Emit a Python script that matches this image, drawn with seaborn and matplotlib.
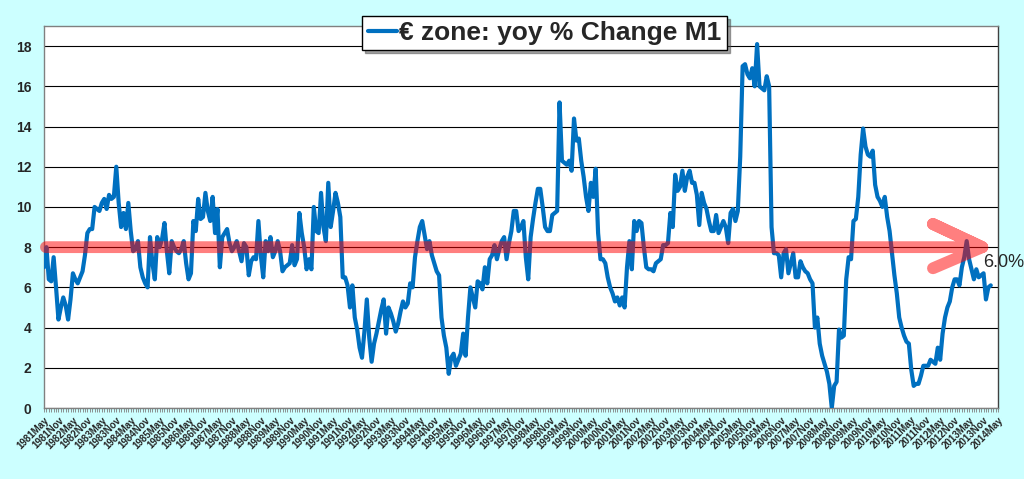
import matplotlib
matplotlib.use("Agg")
import matplotlib.pyplot as plt
import seaborn as sns
import numpy as np
import pandas as pd

# euro zone M1, yoy % change, monthly from 1981 May
m1_yoy = [
    7.0, 8.0, 6.4, 6.3, 7.5, 6.0, 4.4, 5.0, 5.5, 5.1, 4.4, 5.4,
    6.7, 6.4, 6.2, 6.5, 6.8, 7.6, 8.7, 8.9, 8.9, 10.0, 9.9, 9.8,
    10.2, 10.4, 9.9, 10.6, 10.4, 10.5, 12.0, 10.2, 9.0, 9.7, 8.9, 10.2,
    8.8, 7.8, 7.9, 8.3, 7.0, 6.5, 6.2, 6.0, 8.5, 7.2, 6.4, 8.5,
    8.0, 8.4, 9.2, 7.8, 6.7, 8.3, 8.0, 7.8, 7.7, 7.9, 8.3, 7.2,
    6.4, 6.7, 9.3, 8.8, 10.4, 9.4, 9.5, 10.7, 9.8, 9.3, 10.5, 8.7,
    9.9, 7.0, 8.5, 8.7, 8.9, 8.2, 7.8, 8.0, 8.3, 7.8, 7.3, 8.2,
    8.0, 6.6, 7.3, 7.5, 7.4, 9.3, 7.6, 6.5, 8.3, 7.8, 8.5, 7.5,
    7.8, 8.3, 7.8, 6.8, 7.0, 7.1, 7.2, 8.1, 7.1, 7.4, 9.7, 8.7,
    8.0, 6.9, 7.4, 6.9, 10.0, 8.8, 8.7, 10.7, 9.0, 8.3, 11.2, 9.0,
    9.8, 10.7, 10.2, 9.5, 6.5, 6.5, 6.1, 5.0, 6.1, 4.5, 3.9, 3.0,
    2.5, 3.8, 5.4, 3.5, 2.3, 3.2, 3.7, 4.3, 4.9, 5.4, 3.7, 5.0,
    4.7, 4.3, 3.8, 4.2, 4.8, 5.3, 5.0, 5.2, 6.2, 6.0, 7.5, 8.3,
    9.0, 9.3, 8.6, 7.9, 8.3, 7.6, 7.2, 6.8, 6.6, 4.5, 3.6, 3.0,
    1.7, 2.5, 2.7, 2.1, 2.4, 2.7, 3.7, 2.6, 4.5, 6.0, 5.5, 5.0,
    6.3, 6.2, 5.9, 7.0, 6.2, 7.4, 7.6, 8.1, 7.4, 7.9, 8.3, 8.5,
    7.4, 8.2, 8.8, 9.8, 9.8, 8.8, 9.0, 9.3, 7.5, 6.4, 8.5, 9.4,
    10.2, 10.9, 10.9, 10.0, 9.0, 8.8, 8.8, 9.6, 9.7, 9.8, 15.2, 12.3,
    12.2, 12.1, 12.3, 11.8, 14.4, 13.3, 13.4, 12.3, 11.5, 10.5, 9.8, 11.2,
    10.5, 11.9, 8.7, 7.4, 7.4, 7.2, 6.5, 6.0, 5.7, 5.3, 5.5, 5.1,
    5.5, 5.0, 7.0, 8.3, 6.9, 9.3, 8.8, 9.3, 9.2, 8.0, 7.0, 6.9,
    6.9, 6.8, 7.2, 7.3, 7.4, 8.1, 8.1, 8.2, 9.7, 9.0, 11.6, 10.8,
    11.0, 11.8, 10.8, 11.5, 11.8, 11.2, 11.2, 10.6, 9.1, 10.7, 10.2, 9.9,
    9.3, 8.8, 8.8, 9.6, 8.7, 9.0, 9.3, 9.0, 8.2, 9.7, 9.9, 9.3,
    9.8, 12.5, 17.0, 17.1, 16.6, 16.4, 16.9, 16.0, 18.1, 16.0, 15.9, 15.8,
    16.5, 16.0, 9.0, 7.7, 7.7, 7.6, 6.5, 7.7, 7.9, 6.7, 7.2, 7.7,
    6.5, 6.5, 7.3, 7.0, 6.8, 6.7, 6.4, 6.2, 4.0, 4.5, 3.2, 2.6,
    2.2, 1.8, 1.2, 0.0, 1.1, 1.3, 3.9, 3.5, 3.6, 6.4, 7.5, 7.4,
    9.3, 9.4, 10.5, 12.6, 13.9, 13.0, 12.6, 12.5, 12.8, 11.1, 10.5, 10.3,
    10.0, 10.5, 9.5, 8.8, 7.7, 6.6, 5.7, 4.5, 4.0, 3.6, 3.3, 3.2,
    1.9, 1.1, 1.2, 1.2, 1.6, 2.1, 2.1, 2.1, 2.4, 2.3, 2.2, 3.0,
    2.4, 3.7, 4.5, 5.0, 5.3, 6.0, 6.4, 6.4, 6.1, 7.0, 7.5, 8.3,
    7.4, 6.9, 6.4, 6.9, 6.5, 6.6, 6.7, 5.4, 6.0, 6.1,
]
start_month = "1981-05"
n_months = 397          # category axis runs 1981May .. 2014May
series_label = "€ zone: yoy % Change M1"
avg_level = 8.0
last_label = "6.0%"

months = pd.period_range(start_month, periods=n_months, freq="M")
tick_pos = np.arange(0, n_months, 6)
tick_labels = [f"{p.year}{p.strftime('%b')}" for p in months[tick_pos]]

df = pd.DataFrame({"pos": np.arange(len(m1_yoy)), "yoy": m1_yoy})

sns.set_style("white")
plt.rcParams["font.family"] = ["Liberation Sans", "DejaVu Sans"]

W, H = 1024, 479
fig = plt.figure(figsize=(W / 100, H / 100), dpi=100, facecolor="#CCFFFF")
ax = fig.add_axes([44 / W, 1 - 408 / H, (998 - 44) / W, (408 - 26) / H])
ax.set_facecolor("white")

sns.lineplot(data=df, x="pos", y="yoy", ax=ax, color="#0070C0",
             linewidth=3.0, label=series_label, zorder=3)

# y axis
ax.set_ylim(0, 19)
ax.set_yticks(range(0, 19, 2))
ax.yaxis.grid(True, color="black", linewidth=0.8)
ax.set_axisbelow(True)
ax.tick_params(axis="y", length=0, pad=9, labelsize=10)
for t in ax.get_yticklabels():
    t.set_fontweight("bold")

# x axis: a tick every month, a label every six months
ax.set_xlim(0, n_months - 1)
ax.set_xticks(tick_pos)
ax.set_xticklabels(tick_labels, rotation=45, ha="right",
                   rotation_mode="anchor", fontsize=7, fontweight="bold")
ax.set_xticks(np.arange(n_months), minor=True)
ax.tick_params(axis="x", which="both", direction="out", length=3,
               width=0.6, color="#808080", pad=2, bottom=True)
ax.set_xlabel("")
ax.set_ylabel("")

for side, sp in ax.spines.items():
    sp.set_visible(True)
    sp.set_color("#808080")
    sp.set_linewidth(1.0)
ax.spines["right"].set_color("#404040")

# red "average" arrow at the 8% level
tip = 389.5
arrow_x = [0.8, tip, tip - 20.5, tip, tip - 20.5]
arrow_y = [avg_level, avg_level, avg_level + 1.15, avg_level, avg_level - 1.05]
ax.plot(arrow_x, arrow_y, color="red", alpha=0.5, linewidth=8.5,
        solid_capstyle="round", solid_joinstyle="round",
        clip_on=False, zorder=4)
ax.text(tip + 0.3, 7.25, last_label, fontsize=13, ha="left", va="center",
        clip_on=False, zorder=5)

leg = ax.legend(loc="center", bbox_to_anchor=(544.5 / W, 1 - 33 / H),
                bbox_transform=fig.transFigure, frameon=True, fancybox=False,
                shadow=True, edgecolor="black", framealpha=1,
                prop={"size": 19, "weight": "bold"}, handlelength=1.1,
                handletextpad=0.1, borderpad=0.2, borderaxespad=0)
leg.get_frame().set_linewidth(1.0)
leg.set_zorder(10)

fig.savefig("out.png", dpi=100, facecolor=fig.get_facecolor())
